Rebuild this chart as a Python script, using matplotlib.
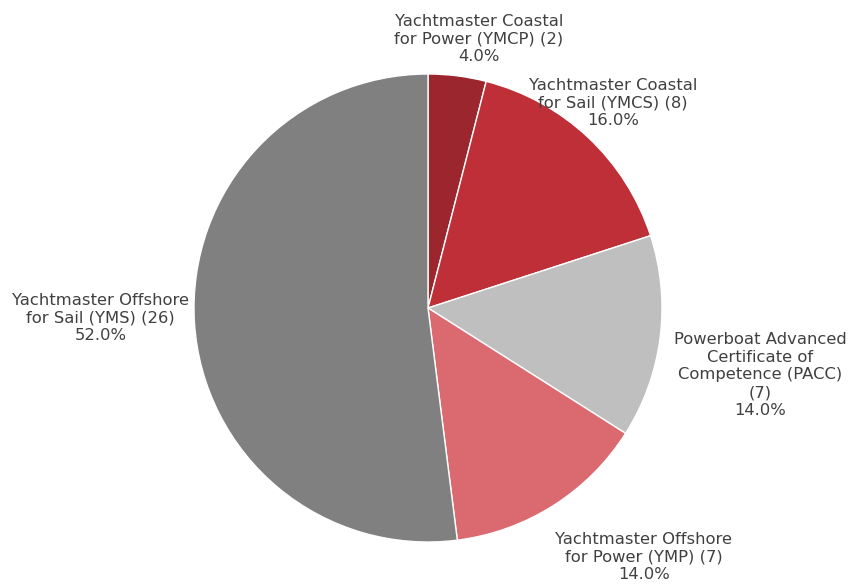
import matplotlib
matplotlib.use("Agg")
import matplotlib.pyplot as plt

categories = ["Yachtmaster Coastal\nfor Power (YMCP)", "Yachtmaster Coastal\nfor Sail (YMCS)",
              "Powerboat Advanced\nCertificate of\nCompetence (PACC)\n", "Yachtmaster Offshore\nfor Power (YMP)",
              "Yachtmaster Offshore\nfor Sail (YMS)"]
counts = [2, 8, 7, 7, 26]
colors = ["#9B262E", "#BF2F38", "#BFBFBF", "#DB6A70", "#808080"]
label_pos = [(0.218, 1.150), (0.791, 0.876), (1.419, -0.286), (0.923, -1.064), (-1.40, -0.043)]

W, H = 854, 588
fig = plt.figure(figsize=(W / 100, H / 100), dpi=100)
cx, cy, r = 428, 308, 234
ax = fig.add_axes([(cx - r) / W, (H - cy - r) / H, 2 * r / W, 2 * r / H])
ax.axis("off")

ax.pie(counts, colors=colors, startangle=90, counterclock=False, radius=1,
       wedgeprops=dict(edgecolor="white", linewidth=1))
ax.set_aspect("equal")
ax.set_xlim(-1, 1)
ax.set_ylim(-1, 1)

total = sum(counts)
for cat, c, (x, y) in zip(categories, counts, label_pos):
    sep = "" if cat.endswith("\n") else " "
    txt = f"{cat}{sep}({c})\n{100 * c / total:.1f}%"
    ax.text(x, y, txt, ha="center", va="center", fontsize=11.8, color="#404040",
            family="DejaVu Sans", linespacing=1.22, clip_on=False)

fig.savefig("out.png", dpi=100)
